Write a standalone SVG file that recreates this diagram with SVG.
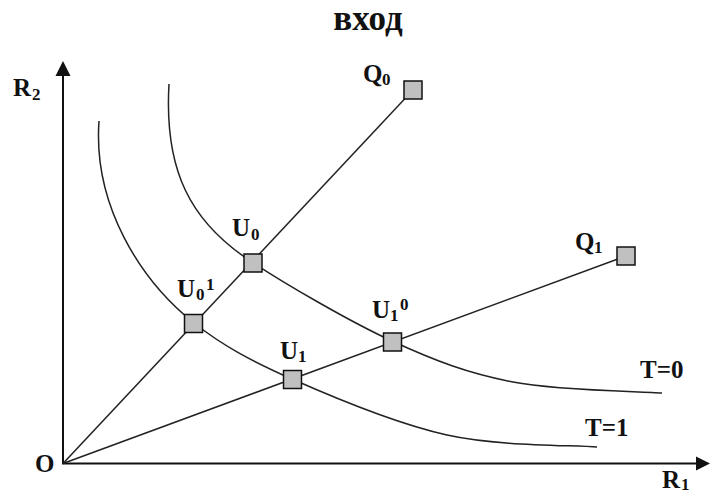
<svg xmlns="http://www.w3.org/2000/svg" width="710" height="495" viewBox="0 0 710 495">
<style>
.t{font-family:"Liberation Serif","Times New Roman",serif;font-weight:bold;fill:#111}
.m{font-size:25px}
.s{font-size:17px}
.ax{stroke:#111;stroke-width:2;fill:none}
.ln{stroke:#222;stroke-width:1.5;fill:none}
.sq{fill:#c0c0c0;stroke:#111;stroke-width:1.5}
</style>
<rect width="710" height="495" fill="#fff"/>
<text class="t" x="368" y="30" font-size="35" text-anchor="middle">вход</text>
<g id="axes">
<line class="ax" x1="63" y1="463.5" x2="63" y2="72"/>
<polygon points="55.5,76 63,61 70.5,76" fill="#111"/>
<line class="ax" x1="62" y1="463.5" x2="698" y2="463.5"/>
<polygon points="696,456.5 710,463.5 696,470.5" fill="#111"/>
</g>
<g id="connectors">
<line class="ln" x1="63" y1="463.5" x2="413" y2="90"/>
<line class="ln" x1="63" y1="463.5" x2="626" y2="256"/>
<path id="T0" class="ln" d="M169,84 C164,170 190,222 252,262 C283.2,282.7 348.5,321 392,341 C435.5,361 468,373.3 513,382 C558,390.7 637.2,391.2 662,393"/>
<path id="T1" class="ln" d="M99,121 C93,205 140,280 194,323 C222.3,345.3 249.8,360.3 292,379 C334.2,397.7 396.2,423.7 447,435 C497.8,446.3 572,445 597,447"/>
</g>
<g id="O"><text class="t m" x="35" y="472">O</text></g>
<g id="R2"><text class="t m" x="13" y="96">R</text><text class="t s" x="32" y="100">2</text></g>
<g id="R1"><text class="t m" x="662" y="488">R</text><text class="t s" x="681" y="490">1</text></g>
<g id="Q0"><rect class="sq" x="404" y="81" width="18" height="18"/><text class="t m" x="363" y="82">Q</text><text class="t s" x="382" y="85">0</text></g>
<g id="Q1"><rect class="sq" x="617" y="247" width="18" height="18"/><text class="t m" x="575" y="250">Q</text><text class="t s" x="594" y="253">1</text></g>
<g id="U0"><rect class="sq" x="244" y="254" width="18" height="18"/><text class="t m" x="232" y="236">U</text><text class="t s" x="251" y="240">0</text></g>
<g id="U01"><rect class="sq" x="184.5" y="314.5" width="18" height="18"/><text class="t m" x="177" y="297">U</text><text class="t s" x="196" y="300">0</text><text class="t s" x="206" y="290">1</text></g>
<g id="U1"><rect class="sq" x="283.5" y="370.5" width="18" height="18"/><text class="t m" x="280" y="359">U</text><text class="t s" x="298" y="362">1</text></g>
<g id="U10"><rect class="sq" x="383.5" y="333" width="18" height="18"/><text class="t m" x="372" y="318">U</text><text class="t s" x="390" y="321">1</text><text class="t s" x="400" y="310">0</text></g>
<g id="T0l"><text class="t m" x="640" y="378">T=0</text></g>
<g id="T1l"><text class="t m" x="585" y="436">T=1</text></g>
</svg>
